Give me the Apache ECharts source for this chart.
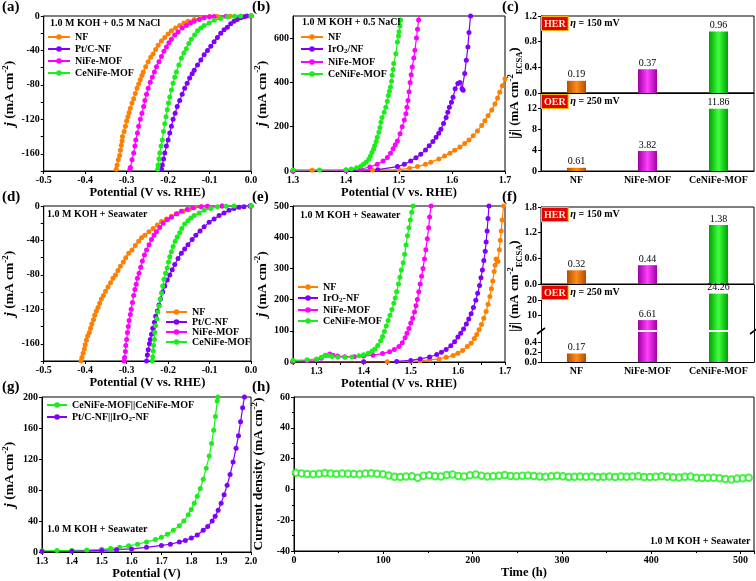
<!DOCTYPE html>
<html><head><meta charset="utf-8">
<script src="https://cdn.jsdelivr.net/npm/echarts@6/dist/echarts.min.js"></script>
<style>html,body{margin:0;padding:0;background:#fff}#c{width:756px;height:581px}</style>
</head><body><div id="c"></div>
<script>
// ---------- DATA ----------
// (a) HER, 1.0 M KOH + 0.5 M NaCl  [potential V vs RHE, j mA cm-2]
const a_NF = [[-0.325,-178],[-0.323,-173],[-0.320,-167],[-0.317,-162],[-0.315,-156],[-0.313,-150],[-0.311,-145],[-0.310,-140],[-0.306,-134],[-0.303,-128],[-0.300,-122],[-0.297,-117],[-0.294,-112],[-0.291,-107],[-0.287,-101],[-0.283,-96],[-0.279,-90],[-0.275,-84],[-0.271,-79],[-0.267,-74],[-0.263,-69],[-0.260,-65],[-0.254,-59],[-0.248,-53],[-0.242,-48],[-0.236,-44],[-0.230,-39],[-0.224,-34],[-0.216,-29],[-0.208,-25],[-0.200,-21],[-0.192,-17],[-0.182,-14],[-0.172,-11],[-0.162,-8],[-0.152,-6],[-0.137,-4],[-0.121,-2],[-0.100,-1],[-0.081,-0.5],[-0.050,-0.2],[0,0]];
const a_PtC = [[-0.216,-178],[-0.214,-173],[-0.211,-166],[-0.208,-159],[-0.204,-151],[-0.200,-144],[-0.196,-136],[-0.192,-128],[-0.188,-120],[-0.183,-113],[-0.178,-105],[-0.172,-98],[-0.166,-91],[-0.160,-84],[-0.154,-78],[-0.148,-72],[-0.142,-67],[-0.137,-63],[-0.129,-57],[-0.121,-51],[-0.113,-45],[-0.105,-40],[-0.097,-35],[-0.089,-30],[-0.081,-25],[-0.073,-20],[-0.065,-16],[-0.057,-13],[-0.049,-9],[-0.041,-6],[-0.033,-4],[-0.025,-2],[-0.017,-1],[-0.010,0],[0,0]];
const a_NiFe = [[-0.292,-178],[-0.291,-176],[-0.287,-167],[-0.283,-159],[-0.280,-151],[-0.278,-144],[-0.274,-136],[-0.271,-128],[-0.267,-120],[-0.263,-113],[-0.259,-105],[-0.256,-98],[-0.252,-91],[-0.248,-84],[-0.243,-77],[-0.238,-71],[-0.233,-65],[-0.228,-59],[-0.222,-53],[-0.216,-47],[-0.210,-41],[-0.204,-36],[-0.198,-31],[-0.192,-27],[-0.184,-22],[-0.176,-18.5],[-0.166,-14],[-0.156,-11],[-0.146,-8],[-0.137,-6],[-0.125,-4],[-0.113,-2],[-0.100,-1],[-0.089,-0.5],[-0.060,-0.2],[0,0]];
const a_CeNiFe = [[-0.225,-178],[-0.224,-173],[-0.222,-166],[-0.220,-159],[-0.217,-151],[-0.214,-144],[-0.211,-134],[-0.208,-125],[-0.205,-117],[-0.202,-109],[-0.199,-101],[-0.196,-94],[-0.192,-86],[-0.188,-78],[-0.184,-71],[-0.180,-65],[-0.174,-57],[-0.168,-49],[-0.162,-43],[-0.156,-38],[-0.150,-32],[-0.144,-27],[-0.136,-22],[-0.129,-17],[-0.121,-14],[-0.113,-11],[-0.101,-8],[-0.089,-5],[-0.073,-3],[-0.057,-1],[-0.040,-0.4],[-0.025,0],[0,0]];

// (b) OER, 1.0 M KOH + 0.5 NaCl
const b_NF = [[1.30,0],[1.336,3],[1.40,3],[1.45,4],[1.50,6],[1.52,12],[1.535,20],[1.55,30],[1.56,40],[1.575,54],[1.586,68],[1.596,80],[1.605,94],[1.615,108],[1.624,124],[1.632,140],[1.640,159],[1.648,181],[1.656,205],[1.662,227],[1.668,250],[1.675,276],[1.681,303],[1.686,330],[1.690,356],[1.695,385],[1.700,417]];
const b_IrO2 = [[1.30,0],[1.40,2],[1.46,6],[1.497,20],[1.51,30],[1.522,45],[1.532,60],[1.541,76],[1.55,95],[1.557,114],[1.564,133],[1.570,152],[1.575,170],[1.579,189],[1.584,215],[1.589,242],[1.592,265],[1.595,288],[1.599,310],[1.602,333],[1.606,371],[1.611,395],[1.615,400],[1.619,372],[1.621,365],[1.624,440],[1.627,500],[1.630,560],[1.632,625],[1.635,700]];
const b_NiFe = [[1.30,1],[1.40,3],[1.427,8],[1.445,18],[1.459,30],[1.470,45],[1.478,61],[1.484,80],[1.489,100],[1.493,118],[1.497,136],[1.502,168],[1.506,200],[1.510,230],[1.513,258],[1.515,288],[1.517,318],[1.519,358],[1.521,400],[1.523,435],[1.525,470],[1.528,510],[1.530,545],[1.533,601],[1.535,640],[1.537,682],[1.538,701]];
const b_CeNiFe = [[1.30,5],[1.35,5],[1.40,6],[1.41,9],[1.42,15],[1.428,22],[1.433,30],[1.438,40],[1.443,53],[1.446,67],[1.449,83],[1.452,98],[1.454,114],[1.457,133],[1.459,152],[1.462,175],[1.464,197],[1.466,220],[1.468,242],[1.472,265],[1.475,288],[1.478,315],[1.480,341],[1.482,360],[1.484,379],[1.486,405],[1.487,432],[1.489,458],[1.490,485],[1.494,530],[1.497,583],[1.499,610],[1.500,629],[1.502,655],[1.503,682]];

// (c) / (f) specific activity bars
const cats = ['NF','NiFe-MOF','CeNiFe-MOF'];
const c_HER = [0.19, 0.37, 0.96];
const c_OER = [0.61, 3.82, 11.86];
const f_HER = [0.32, 0.44, 1.38];
const f_OER = [0.17, 6.61, 24.26];

// (d) HER, 1.0 M KOH + Seawater
const d_NF = [[-0.410,-180],[-0.408,-176],[-0.405,-171],[-0.402,-166],[-0.400,-161],[-0.397,-156],[-0.394,-151],[-0.390,-147],[-0.387,-142],[-0.384,-137],[-0.380,-132],[-0.377,-127],[-0.373,-122],[-0.369,-118],[-0.365,-113],[-0.361,-108],[-0.356,-104],[-0.351,-99],[-0.345,-94],[-0.339,-89],[-0.333,-84],[-0.327,-80],[-0.321,-75],[-0.315,-70],[-0.308,-65],[-0.302,-60],[-0.295,-55],[-0.287,-51],[-0.279,-46],[-0.271,-41],[-0.264,-37],[-0.256,-34],[-0.246,-30],[-0.236,-26],[-0.226,-22],[-0.216,-18],[-0.204,-15],[-0.192,-12],[-0.178,-9],[-0.164,-6],[-0.150,-4],[-0.137,-2],[-0.120,-1],[-0.105,-0.4],[-0.070,-0.1],[0,0]];
const d_PtC = [[-0.252,-180],[-0.250,-173],[-0.248,-167],[-0.245,-160],[-0.243,-155],[-0.240,-149],[-0.237,-142],[-0.233,-135],[-0.230,-128],[-0.226,-122],[-0.222,-115],[-0.218,-108],[-0.213,-100],[-0.208,-93],[-0.202,-86],[-0.196,-80],[-0.190,-74],[-0.184,-68],[-0.176,-61],[-0.168,-55],[-0.160,-50],[-0.152,-45],[-0.142,-39],[-0.133,-34],[-0.123,-29],[-0.113,-24],[-0.101,-19],[-0.089,-15],[-0.077,-11],[-0.065,-8],[-0.053,-5],[-0.041,-3],[-0.029,-1.5],[-0.017,-0.8],[-0.002,0],[0,0]];
const d_NiFe = [[-0.306,-180],[-0.305,-176],[-0.303,-169],[-0.302,-162],[-0.300,-155],[-0.298,-147],[-0.296,-140],[-0.294,-133],[-0.291,-126],[-0.289,-120],[-0.286,-112],[-0.283,-104],[-0.280,-97],[-0.277,-91],[-0.274,-84],[-0.270,-78],[-0.266,-71],[-0.262,-64],[-0.257,-57],[-0.252,-51],[-0.246,-45],[-0.240,-39],[-0.234,-34],[-0.228,-30],[-0.220,-25],[-0.212,-20],[-0.202,-16],[-0.192,-13],[-0.180,-9],[-0.168,-6],[-0.154,-4],[-0.140,-2],[-0.120,-1],[-0.105,-0.4],[-0.070,-0.1],[0,0]];
const d_CeNiFe = [[-0.238,-180],[-0.237,-175],[-0.236,-168],[-0.235,-162],[-0.233,-155],[-0.232,-147],[-0.230,-139],[-0.227,-131],[-0.225,-123],[-0.222,-116],[-0.219,-108],[-0.216,-101],[-0.213,-93],[-0.210,-85],[-0.206,-78],[-0.202,-72],[-0.199,-65],[-0.196,-59],[-0.192,-53],[-0.188,-47],[-0.183,-41],[-0.178,-36],[-0.172,-31],[-0.167,-26],[-0.160,-21],[-0.152,-17],[-0.145,-14],[-0.137,-11],[-0.125,-8],[-0.113,-5],[-0.097,-3],[-0.081,-1],[-0.060,-0.3],[-0.041,0],[0,0]];

// (e) OER, 1.0 M KOH + Seawater
const e_NF = [[1.25,0],[1.40,0.3],[1.45,0.5],[1.50,2],[1.52,4],[1.54,7],[1.56,10],[1.575,15],[1.59,21],[1.60,28],[1.61,37],[1.62,50],[1.628,60],[1.635,75],[1.64,88],[1.645,103],[1.65,120],[1.655,140],[1.66,162],[1.664,185],[1.668,210],[1.671,235],[1.674,260],[1.677,290],[1.679,310],[1.681,330],[1.685,322],[1.688,360],[1.690,390],[1.692,420],[1.694,455],[1.697,500]];
const e_IrO2 = [[1.25,0.5],[1.40,1],[1.47,2],[1.50,5],[1.52,10],[1.54,16],[1.555,24],[1.565,31],[1.575,40],[1.585,52],[1.593,65],[1.60,80],[1.606,92],[1.612,106],[1.618,122],[1.623,138],[1.628,155],[1.633,175],[1.638,198],[1.642,220],[1.646,245],[1.649,270],[1.652,295],[1.655,325],[1.658,355],[1.660,385],[1.662,420],[1.664,460],[1.666,500]];
const e_NiFe = [[1.25,3],[1.28,5],[1.30,7],[1.31,12],[1.32,22],[1.328,26],[1.335,22],[1.345,19],[1.36,17],[1.38,17],[1.40,19],[1.42,22],[1.44,27],[1.455,33],[1.465,40],[1.475,50],[1.482,62],[1.488,78],[1.492,92],[1.496,107],[1.500,125],[1.504,140],[1.508,160],[1.511,180],[1.514,200],[1.517,225],[1.520,250],[1.523,275],[1.526,300],[1.529,330],[1.532,360],[1.535,395],[1.538,430],[1.540,465],[1.543,500]];
const e_CeNiFe = [[1.25,5],[1.28,7],[1.30,10],[1.31,15],[1.318,22],[1.325,21],[1.333,18],[1.345,16],[1.36,15],[1.375,16],[1.39,20],[1.40,23],[1.41,28],[1.418,35],[1.424,42],[1.43,53],[1.436,68],[1.44,82],[1.444,98],[1.448,115],[1.452,133],[1.456,150],[1.46,168],[1.464,188],[1.467,205],[1.47,225],[1.474,250],[1.477,272],[1.48,295],[1.484,318],[1.487,345],[1.490,375],[1.493,405],[1.496,430],[1.499,455],[1.502,480],[1.505,500]];

// (g) overall water splitting
const g_Ce = [[1.30,1.5],[1.35,1.8],[1.40,2],[1.45,2.5],[1.50,3.5],[1.53,4.5],[1.56,6],[1.59,8],[1.62,10],[1.65,13],[1.68,16],[1.70,19],[1.72,23],[1.74,28],[1.76,34],[1.775,40],[1.79,48],[1.80,55],[1.81,63],[1.82,72],[1.83,82],[1.84,94],[1.85,108],[1.86,124],[1.868,140],[1.875,157],[1.881,175],[1.887,195],[1.889,200]];
const g_Pt = [[1.30,0.5],[1.40,1],[1.50,2],[1.55,3],[1.60,4],[1.65,6],[1.70,8.5],[1.73,10],[1.76,13],[1.78,15],[1.80,18],[1.82,22],[1.84,28],[1.855,33],[1.87,40],[1.88,46],[1.89,54],[1.90,63],[1.91,74],[1.92,86],[1.93,100],[1.94,116],[1.95,134],[1.958,150],[1.965,168],[1.972,186],[1.978,200]];

// (h) stability
const hTime = [2,8.5,15,21.5,28,34.5,41,47.5,54,60.5,67,73.5,80,86.5,93,99.5,106,112.5,119,125.5,132,138.5,145,151.5,158,164.5,171,177.5,184,190.5,197,203.5,210,216.5,223,229.5,236,242.5,249,255.5,262,268.5,275,281.5,288,294.5,301,307.5,314,320.5,327,333.5,340,346.5,353,359.5,366,372.5,379,385.5,392,398.5,405,411.5,418,424.5,431,437.5,444,450.5,457,463.5,470,476.5,483,489.5,496,502.5,509,515.5];
const hJ = [10.8,10.4,10.0,9.8,10.2,10.6,10.3,10.0,10.4,10.2,10.0,9.8,10.3,10.5,10.1,9.9,9.0,8.2,8.1,8.4,8.6,7.6,8.8,9.2,8.6,8.3,9.4,9.6,8.7,8.3,9.2,9.6,8.9,8.3,8.5,8.8,9.4,8.7,8.6,8.8,9.0,8.7,8.4,8.2,8.6,8.8,8.5,8.1,8.2,8.3,8.2,8.4,8.1,8.2,8.3,8.1,8.3,8.2,8.4,8.5,8.1,8.0,8.2,8.5,8.2,7.9,7.8,8.2,8.3,7.6,7.4,7.5,7.6,7.2,6.7,6.4,7.0,7.3,7.5,7.1];

// ---------- STYLE / LAYOUT ----------
const F = 'Liberation Serif';
const C_NF = '#ff7f00', C_PT = '#7f00ff', C_NIFE = '#ff00ff', C_CE = '#1aee1a';
const BAR_COL = [['#b34d00','#ff8c1a'],['#a000a0','#ff40ff'],['#00a000','#40ff40']];
const GRIDS = [
  [41,16,210,155],   //0 a
  [293,16,212,155],  //1 b
  [541,16,213,77],   //2 c HER
  [541,93,213,78],   //3 c OER
  [41,206,210,155],  //4 d
  [293,206,212,156], //5 e
  [541,207,213,77],  //6 f HER
  [541,285,213,45],  //7 f OER upper
  [541,332,213,30],  //8 f OER lower
  [41,397,210,155],  //9 g
  [294,397,460,154]  //10 h
];
const LOWMAX = 0.6;

const f1 = v => (Math.abs(v) < 1e-9 ? 0 : v).toFixed(1);
const f40 = v => { const r = Math.round(v); return r % 40 === 0 ? String(r) : ''; };
const fTenth = v => Math.abs(v*10 - Math.round(v*10)) < 1e-6 ? (Math.round(v*10)/10).toFixed(1) : '';
const fInt = v => String(Math.round(v));

const AX_LINE = {show:true, onZero:false, lineStyle:{color:'#000', width:1}};
const AX_TICK = {show:true, length:3, lineStyle:{color:'#000', width:1}};
function lab(fmt, extra) {
  return Object.assign({fontFamily:F, fontWeight:'bold', fontSize:10, color:'#000', margin:4, formatter:fmt}, extra || {});
}
function vAxis(gi, min, max, interval, fmt, labExtra, more) {
  return Object.assign({type:'value', gridIndex:gi, min:min, max:max, interval:interval,
    axisLine:AX_LINE, axisTick:AX_TICK, splitLine:{show:false}, axisLabel:lab(fmt, labExtra)}, more || {});
}
function cAxis(gi, showLabel, more) {
  return Object.assign({type:'category', gridIndex:gi, data:cats, axisLine:AX_LINE, axisTick:{show:false},
    axisLabel: showLabel ? lab(null, {interval:0, hideOverlap:false}) : {show:false}}, more || {});
}
const YR = {
  i:{fontFamily:F, fontWeight:'bold', fontStyle:'italic', fontSize:14.5, lineHeight:18, color:'#000'},
  n:{fontFamily:F, fontWeight:'bold', fontSize:13.5, lineHeight:18, color:'#000'},
  sup:{fontFamily:F, fontWeight:'bold', fontSize:9, lineHeight:11, verticalAlign:'top', color:'#000'},
  sub:{fontFamily:F, fontWeight:'bold', fontSize:9, lineHeight:11, verticalAlign:'bottom', color:'#000'}
};
const xName = (t, gap) => ({name:t, nameLocation:'middle', nameGap:gap,
  nameTextStyle:{fontFamily:F, fontWeight:'bold', fontSize:12.5, color:'#000'}});
const yName = (t, gap) => ({name:t, nameLocation:'middle', nameGap:gap,
  nameTextStyle:{fontFamily:F, fontWeight:'bold', fontSize:13.5, color:'#000', rich:YR}});
const JNAME = '{i|j}{n| (mA cm}{sup|-2}{n|)}';

const xAxis = [
  vAxis(0, -0.5, 0, 0.1, f1, null, xName('Potential (V vs. RHE)', 15)),
  vAxis(1, 1.3, 1.7, 0.1, f1, null, xName('Potential (V vs. RHE)', 15)),
  cAxis(2, false),
  cAxis(3, true),
  vAxis(4, -0.5, 0, 0.1, f1, null, xName('Potential (V vs. RHE)', 15)),
  vAxis(5, 1.25, 1.7, 0.05, fTenth, null, xName('Potential (V vs. RHE)', 15)),
  cAxis(6, false),
  cAxis(7, false, {show:false}),
  cAxis(8, true),
  vAxis(9, 1.3, 2.0, 0.1, f1, null, xName('Potential (V)', 14)),
  vAxis(10, 0, 515, 100, fInt, {showMaxLabel:false}, Object.assign(xName('Time (h)', 14), {minorTick:{show:true, splitNumber:2, length:2, lineStyle:{color:'#000'}}}))
];
const yAxis = [
  vAxis(0, -180, 0, 20, f40, null, yName(JNAME, 23)),
  vAxis(1, 0, 700, 200, fInt, {showMaxLabel:false}, yName(JNAME, 18)),
  vAxis(2, 0, 1.2, 0.4, f1),
  vAxis(3, 0, 14.86, 4, fInt, {showMaxLabel:false}),
  vAxis(4, -180, 0, 20, f40, null, yName(JNAME, 23)),
  vAxis(5, 0, 500, 100, fInt, null, yName(JNAME, 18)),
  vAxis(6, 0, 1.8, 0.6, f1),
  vAxis(7, 0, 30, 10, fInt, {showMaxLabel:false, showMinLabel:false}),
  vAxis(8, 0, LOWMAX, 0.2, f1, {showMaxLabel:false}),
  vAxis(9, 0, 200, 40, fInt, null, yName(JNAME, 23)),
  vAxis(10, -40, 60, 20, fInt, null, Object.assign(yName('{n|Current density (mA cm}{sup|-2}{n|)}', 16), {minorTick:{show:true, splitNumber:2, length:2, lineStyle:{color:'#000'}}})),
  {type:'value', gridIndex:7, position:'right', axisLine:{show:true, lineStyle:{color:'#000'}}, axisTick:{show:false}, axisLabel:{show:false}, splitLine:{show:false}},
  {type:'value', gridIndex:8, position:'right', axisLine:{show:true, lineStyle:{color:'#000'}}, axisTick:{show:false}, axisLabel:{show:false}, splitLine:{show:false}}
];

function lineS(name, data, color, gi) {
  return {type:'line', name:name, data:data, xAxisIndex:gi, yAxisIndex:gi, symbol:'circle', symbolSize:5,
    showAllSymbol:true, clip:true, itemStyle:{color:color}, lineStyle:{color:color, width:1.2}, z:3};
}
function grad(i) {
  return {type:'linear', x:0, y:0, x2:1, y2:0, colorStops:[
    {offset:0, color:BAR_COL[i][0]}, {offset:0.5, color:BAR_COL[i][1]}, {offset:1, color:BAR_COL[i][0]}]};
}
const BAR_LABEL = {show:true, position:'top', distance:1, fontFamily:F, fontSize:10, color:'#000',
  formatter: p => Number(p.value).toFixed(2)};
function barS(gi, vals, filt) {
  return {type:'bar', xAxisIndex:gi, yAxisIndex:gi, barWidth:19, clip:true, label:BAR_LABEL,
    data: vals.map((v, i) => {
      if (filt === 'up' && v <= LOWMAX) return '-';
      const it = {value:v, itemStyle:{color:grad(i)}};
      if (filt === 'low' && v > LOWMAX) it.label = {show:false};
      return it;
    })};
}

const series = [
  lineS('NF', a_NF, C_NF, 0), lineS('Pt/C-NF', a_PtC, C_PT, 0), lineS('NiFe-MOF', a_NiFe, C_NIFE, 0), lineS('CeNiFe-MOF', a_CeNiFe, C_CE, 0),
  lineS('NF', b_NF, C_NF, 1), lineS('IrO2/NF', b_IrO2, C_PT, 1), lineS('NiFe-MOF', b_NiFe, C_NIFE, 1), lineS('CeNiFe-MOF', b_CeNiFe, C_CE, 1),
  barS(2, c_HER), barS(3, c_OER),
  lineS('NF', d_NF, C_NF, 4), lineS('Pt/C-NF', d_PtC, C_PT, 4), lineS('NiFe-MOF', d_NiFe, C_NIFE, 4), lineS('CeNiFe-MOF', d_CeNiFe, C_CE, 4),
  lineS('NF', e_NF, C_NF, 5), lineS('IrO2-NF', e_IrO2, C_PT, 5), lineS('NiFe-MOF', e_NiFe, C_NIFE, 5), lineS('CeNiFe-MOF', e_CeNiFe, C_CE, 5),
  barS(6, f_HER), barS(7, f_OER, 'up'), barS(8, f_OER, 'low'),
  lineS('CeNiFe-MOF||CeNiFe-MOF', g_Ce, C_CE, 9), lineS('Pt/C-NF||IrO2-NF', g_Pt, C_PT, 9),
  {type:'scatter', xAxisIndex:10, yAxisIndex:10, symbol:'circle', symbolSize:6.5, clip:true,
   itemStyle:{color:'#fff', borderColor:C_CE, borderWidth:2}, data: hTime.map((t, i) => [t, hJ[i]])}
];

const LR = {
  n:{fontFamily:F, fontWeight:'bold', fontSize:10, color:'#000', lineHeight:12},
  s:{fontFamily:F, fontWeight:'bold', fontSize:7, color:'#000', lineHeight:8, verticalAlign:'bottom'}
};
const legendFmt = name => '{n|' + name.split('IrO2').join('IrO}{s|2}{n|') + '}';
function leg(names, left, top, w, gap) {
  return {data:names, left:left, top:top, orient:'vertical', itemWidth:w, itemHeight:7, itemGap:gap,
    selectedMode:false, padding:0, formatter:legendFmt,
    textStyle:{fontFamily:F, fontWeight:'bold', fontSize:10, color:'#000', rich:LR}};
}
const legend = [
  leg(['NF','Pt/C-NF','NiFe-MOF','CeNiFe-MOF'], 47, 32, 22, 2),
  leg(['NF','IrO2/NF','NiFe-MOF','CeNiFe-MOF'], 300, 32, 22, 2),
  leg(['NF','Pt/C-NF','NiFe-MOF','CeNiFe-MOF'], 165, 307, 21, 0),
  leg(['NF','IrO2-NF','NiFe-MOF','CeNiFe-MOF'], 297, 282, 20, 1),
  leg(['CeNiFe-MOF||CeNiFe-MOF','Pt/C-NF||IrO2-NF'], 46, 400, 20, 2)
];

function txt(t, left, top, size, extra) {
  return Object.assign({text:t, left:left, top:top, padding:0, textStyle:{fontFamily:F, fontWeight:'bold', fontSize:size, color:'#000'}}, extra || {});
}
const BOXR = {
  b:{backgroundColor:'#e60000', color:'#fff2cc', fontFamily:F, fontWeight:'bold', fontSize:10, padding:[2,2,1,2], borderColor:'#ffb000', borderWidth:1},
  e:{fontFamily:F, fontWeight:'bold', fontStyle:'italic', fontSize:10.5, color:'#000'},
  t:{fontFamily:F, fontWeight:'bold', fontSize:10, color:'#000'}
};
const boxT = (kind, eta, left, top) => ({text:'{b|' + kind + '}{t| }{e|η}{t| = ' + eta + ' mV}', left:left, top:top, padding:0,
  textStyle:{rich:BOXR, fontFamily:F, fontSize:10}});
const title = [
  txt('(a)', 2, 0, 15), txt('(b)', 252, 0, 15), txt('(c)', 502, 0, 15),
  txt('(d)', 2, 190, 15), txt('(e)', 252, 190, 15), txt('(f)', 502, 190, 15),
  txt('(g)', 2, 380, 15), txt('(h)', 252, 380, 15),
  txt('1.0 M KOH + 0.5 M NaCl', 50, 18, 10),
  txt('1.0 M KOH + 0.5 NaCl', 302, 17, 10),
  txt('1.0 M KOH + Seawater', 47, 209, 10),
  txt('1.0 M KOH + Seawater', 300, 210, 10),
  txt('1.0 M KOH + Seawater', 47, 524, 10),
  txt('1.0 M KOH + Seawater', 650, 536, 10),
  boxT('HER', 150, 542, 17), boxT('OER', 250, 542, 95),
  boxT('HER', 150, 542, 208), boxT('OER', 250, 542, 286)
];

const CR = {
  n:{fontFamily:F, fontWeight:'bold', fontSize:13, lineHeight:18, fill:'#000', color:'#000'},
  i:{fontFamily:F, fontWeight:'bold', fontStyle:'italic', fontSize:14, lineHeight:18, fill:'#000', color:'#000'},
  sup:{fontFamily:F, fontWeight:'bold', fontSize:8.5, lineHeight:10, verticalAlign:'top', fill:'#000', color:'#000'},
  sub:{fontFamily:F, fontWeight:'bold', fontSize:8.5, lineHeight:10, verticalAlign:'bottom', fill:'#000', color:'#000'}
};
const CTXT = '{n||}{i|j}{n||}{n| (mA cm}{sup|-2}{sub|ECSA}{n|)}';
const yLab = (x, y) => ({type:'text', x:x, y:y, rotation:Math.PI/2,
  style:{text:CTXT, rich:CR, fill:'#000', align:'center', verticalAlign:'middle', textAlign:'center', textVerticalAlign:'middle'}});
const brk = (x, y) => ({type:'line', shape:{x1:x-4, y1:y+3, x2:x+4, y2:y-3}, style:{stroke:'#000', lineWidth:1.6}});
const gBreakY = GRIDS[7][1] + GRIDS[7][3] + 1;
const graphic = [
  yLab(515, 93), yLab(515, 286),
  brk(GRIDS[7][0], gBreakY), brk(GRIDS[7][0] + GRIDS[7][2], gBreakY)
];

const chart = echarts.init(document.getElementById('c'), null, {renderer:'canvas'});
chart.setOption({
  animation:false,
  backgroundColor:'#fff',
  grid: GRIDS.map((g, i) => ({left:g[0], top:g[1], width:g[2], height:g[3], show:(i !== 7 && i !== 8),
    borderColor:'#000', borderWidth:1, backgroundColor:'transparent'})),
  xAxis:xAxis, yAxis:yAxis, series:series, legend:legend, title:title, graphic:graphic
});
</script></body></html>
